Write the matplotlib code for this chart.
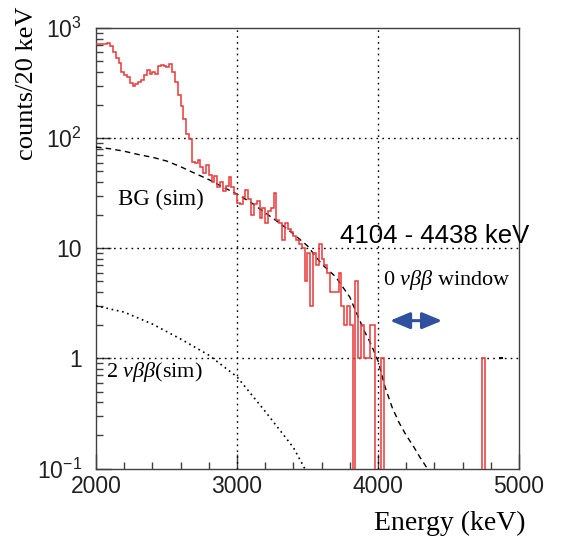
import numpy as np
import matplotlib
matplotlib.use("Agg")
import matplotlib.pyplot as plt
from matplotlib.ticker import FixedLocator, FixedFormatter, MultipleLocator, LogLocator, NullFormatter

plt.rcParams['mathtext.fontset'] = 'custom'
plt.rcParams['mathtext.rm'] = 'Liberation Serif'
plt.rcParams['mathtext.it'] = 'Liberation Serif:italic'

# ---------------- data ----------------
bin_edges_start = 2000
bin_width = 20
# measured counts per 20 keV bin, 2000-5000 keV (150 bins)
counts = [
    720, 715, 720, 715, 730, 690, 600, 535, 480, 395,
    375, 360, 315, 295, 310, 325, 340, 375, 415, 380,
    400, 385, 450, 460, 450, 445, 475, 400, 320, 245,
    195, 148, 108, 98, 61, 60, 63, 55, 48, 57,
    46, 40, 45, 36, 40, 33, 37, 44, 36, 31,
    26, 25, 29, 34, 28, 20, 25, 27, 19, 23,
    17, 22, 23, 32, 18, 17, 12, 17, 15, 14,
    13, 12, 11, 10, 5, 9, 3, 9, 7, 11,
    8, 7, 6, 4, 4, 4, 6, 3, 2, 3,
    2, 0, 5, 1, 2, 1, 1, 2, 2, 0,
    0, 1, 0, 0, 0, 0, 0, 0, 0, 0,
    0, 0, 0, 0, 0, 0, 0, 0, 0, 0,
    0, 0, 0, 0, 0, 0, 0, 0, 0, 0,
    0, 0, 0, 0, 0, 0, 0, 1, 0, 0,
    0, 0, 0, 0, 0, 0, 0, 0, 0, 0,
]

# BG simulation (dashed)
bg_energy = [2000, 2100, 2200, 2300, 2400, 2500, 2600, 2700, 2800, 2900,
             3000, 3100, 3200, 3300, 3400, 3500, 3600, 3700, 3800, 3900,
             3950, 4000, 4050, 4100, 4150, 4200, 4250, 4300, 4350]
bg_counts = [83, 80, 76, 71, 67, 62, 55, 48, 42, 36,
             31, 26, 21, 17, 13.5, 10.5, 7.2, 5.5, 3.6, 1.8,
             1.35, 0.95, 0.55, 0.36, 0.26, 0.2, 0.16, 0.125, 0.1]
bg_tail_energy = [4862, 4878]
bg_tail_counts = [1, 1]

# 2 nu beta beta simulation (dotted)
tnbb_energy = [2000, 2200, 2400, 2600, 2800, 3000, 3200, 3400, 3480]
tnbb_counts = [3.0, 2.63, 2.05, 1.5, 1.07, 0.68, 0.33, 0.155, 0.1]

# 0 nu beta beta window arrow
window_energy = [4085, 4455]
window_level = 2.2

x_ticks = [2000, 3000, 4000, 5000]
x_tick_labels = ["2000", "3000", "4000", "5000"]
y_ticks = [0.1, 1, 10, 100, 1000]
y_tick_labels = [r"$\mathregular{10^{-1}}$", "1", "10",
                 r"$\mathregular{10^{2}}$", r"$\mathregular{10^{3}}$"]
x_grid = [3000, 4000]
y_grid = [1, 10, 100]

# ---------------- figure ----------------
W, H = 563, 537
fig = plt.figure(figsize=(W / 100, H / 100), dpi=100)
ax = fig.add_axes([96 / W, (H - 468.5) / H, 423 / W, 440.5 / H])

counts_arr = np.array(counts, dtype=float)
edges = bin_edges_start + bin_width * np.arange(len(counts) + 1)
plot_counts = np.where(counts_arr > 0, counts_arr, 1e-6)
ax.stairs(plot_counts, edges, baseline=None, color="#e8383a", lw=1.1, zorder=4)

ax.plot(bg_energy, bg_counts, color="black", lw=1.0, ls=(0, (4, 3)), zorder=3)
ax.plot(bg_tail_energy, bg_tail_counts, color="black", lw=1.5, zorder=3)
ax.plot(tnbb_energy, tnbb_counts, color="black", lw=1.2, ls=(0, (1, 2.2)), zorder=3)

for gx in x_grid:
    ax.axvline(gx, color="black", lw=1.0, ls=(0, (1.2, 3)), zorder=2)
for gy in y_grid:
    ax.axhline(gy, color="black", lw=1.0, ls=(0, (1.2, 3)), zorder=2)

ax.set_xlim(2000, 5000)
ax.set_yscale("log")
ax.set_ylim(0.1, 1000)

ax.xaxis.set_major_locator(FixedLocator(x_ticks))
ax.xaxis.set_major_formatter(FixedFormatter(x_tick_labels))
ax.xaxis.set_minor_locator(MultipleLocator(200))
ax.yaxis.set_major_locator(FixedLocator(y_ticks))
ax.yaxis.set_major_formatter(FixedFormatter(y_tick_labels))
ax.yaxis.set_minor_locator(LogLocator(base=10, subs=np.arange(2, 10)))
ax.yaxis.set_minor_formatter(NullFormatter())

ax.tick_params(which="both", direction="in", top=False, right=False,
               color="#404040", width=1.0)
ax.tick_params(axis="x", which="major", length=11, pad=5)
ax.tick_params(axis="x", which="minor", length=5)
ax.tick_params(axis="y", which="major", length=11, pad=10)
ax.tick_params(axis="y", which="minor", length=5)
for lab in ax.get_xticklabels() + ax.get_yticklabels():
    lab.set_fontfamily("Liberation Sans")
    lab.set_fontsize(16.5)
    lab.set_color("#202020")
for sp in ax.spines.values():
    sp.set_color("#404040")
    sp.set_linewidth(1.0)

# annotations
ax.text(2156, 27.9, "BG (sim)", family="Liberation Serif", fontsize=16.5,
        ha="left", va="center")
ax.text(3730, 12.9, "4104 - 4438 keV", family="Liberation Sans", fontsize=18.5,
        ha="left", va="center", clip_on=False)
ax.text(4035, 5.2, r"0 $\nu\beta\beta$ window", family="Liberation Serif",
        fontsize=16, ha="left", va="center")
ax.text(2070, 0.75, r"2 $\nu\beta\beta$(sim)", family="Liberation Serif",
        fontsize=16, ha="left", va="center")

ax.annotate("", xy=(window_energy[1], window_level),
            xytext=(window_energy[0], window_level),
            arrowprops=dict(arrowstyle="<|-|>,head_length=1.2,head_width=0.5",
                            mutation_scale=10, color="#3050a0", lw=2.2,
                            shrinkA=0, shrinkB=0), zorder=5)

fig.text(27 / W, 1 - 7 / H, "counts/20 keV", family="Liberation Serif",
         fontsize=19, rotation=90, ha="center", va="top")
fig.text(525 / W, 1 - 523 / H, "Energy (keV)", family="Liberation Serif",
         fontsize=20, ha="right", va="center")

fig.savefig("out.png", dpi=100)
